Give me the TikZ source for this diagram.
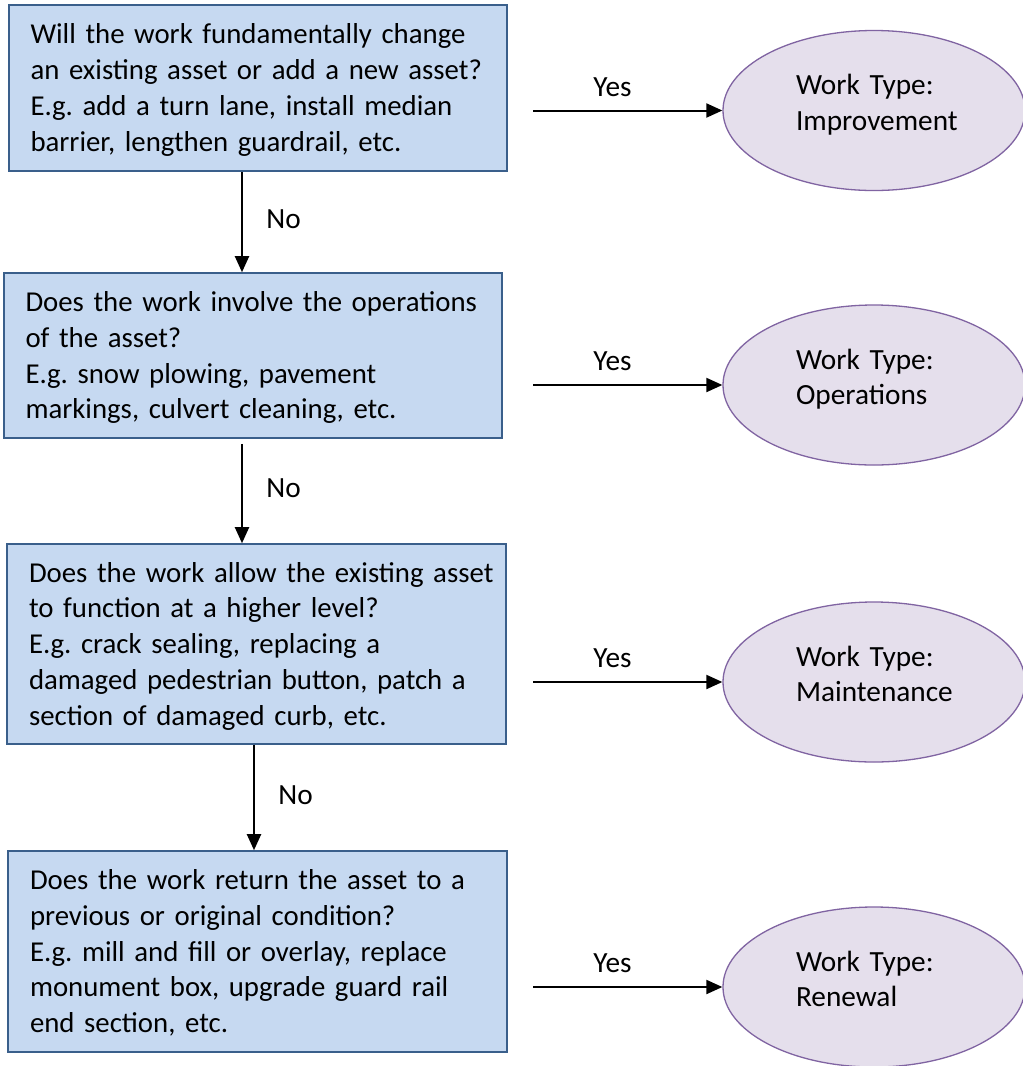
\documentclass[tikz,border=0pt]{standalone}
\usepackage{fontspec}
\setmainfont{Carlito}
\usetikzlibrary{arrows.meta,shapes.geometric,calc}
\definecolor{boxfill}{HTML}{C6D9F1}
\definecolor{boxline}{HTML}{3A5F8B}
\definecolor{ellfill}{HTML}{E5DFEC}
\definecolor{ellline}{HTML}{8064A2}
\newcommand{\mytop}{\leftskip=17.5pt\relax\hyphenpenalty=10000\relax\rule{0pt}{28pt}}
\newcommand{\mybot}{\rule[-8.8pt]{0pt}{8.8pt}\par}
\newcommand{\etop}{\rule{0pt}{24pt}}
\newcommand{\ebot}{\rule[-20pt]{0pt}{20pt}}
\tikzset{
  qbox/.style={rectangle, draw=boxline, fill=boxfill, line width=1.6pt,
    minimum width=498pt, inner xsep=4pt, inner ysep=2pt, text width=490pt,
    align=left, font=\fontsize{28.8}{35.8}\selectfont\frenchspacing},
  wtype/.style={ellipse, draw=ellline, fill=ellfill, line width=1.3pt,
    minimum width=302pt, minimum height=160pt, inner sep=0pt, text width=156pt,
    align=left, font=\fontsize{29.3}{35.8}\selectfont},
  arr/.style={line width=2pt, -{Triangle[length=16pt,width=14pt]}},
  yeslab/.style={anchor=base, yshift=14.5pt, font=\fontsize{29.3}{35.8}\selectfont},
  nolab/.style={anchor=base west, xshift=20pt, yshift=-6.5pt, font=\fontsize{29.3}{35.8}\selectfont}
}
\begin{document}
\begin{tikzpicture}[x=1pt,y=-1pt]
\useasboundingbox[fill=white] (0,0) rectangle (1023,1066);

\node[qbox, minimum height=166pt] (q1) at (258,88)
  {\mytop Will the work fundamentally change\\an existing asset or add a new asset?\\E.g. add a turn lane, install median\\barrier, lengthen guardrail, etc.\mybot};
\node[qbox, minimum height=165pt] (q2) at (253,355.5)
  {\mytop Does the work involve the operations\\of the asset?\\E.g. snow plowing, pavement\\markings, culvert cleaning, etc.\mybot};
\node[qbox, minimum height=200pt, minimum width=499pt] (q3) at (256.5,644)
  {\mytop Does the work allow the existing asset\\to function at a higher level?\\E.g. crack sealing, replacing a\\damaged pedestrian button, patch a\\section of damaged curb, etc.\mybot};
\node[qbox, minimum height=201pt, minimum width=499pt] (q4) at (257.5,951.5)
  {\mytop Does the work return the asset to a\\previous or original condition?\\E.g. mill and fill or overlay, replace\\monument box, upgrade guard rail\\end section, etc.\mybot};

\node[wtype] (w1) at (874,110.5) {\etop Work Type:\\\mbox{Improvement}\ebot};
\node[wtype] (w2) at (874,385) {\etop Work Type:\\\mbox{Operations}\ebot};
\node[wtype] (w3) at (874,682) {\etop Work Type:\\\mbox{Maintenance}\ebot};
\node[wtype] (w4) at (874,987) {\etop Work Type:\\\mbox{Renewal}\ebot};

% arrow x positions and yes-arrow start
\coordinate (ax1) at (242,0);
\coordinate (ax3) at (254,0);
\coordinate (ys) at (533,0);

\draw[arr] (q1.south -| ax1) -- node[nolab] (n1) {No} (q2.north -| ax1);
\draw[arr, shorten <=5pt] (q2.south -| ax1) -- node[nolab] (n2) {No} (q3.north -| ax1);
\draw[arr] (q3.south -| ax3) -- node[nolab] (n3) {No} (q4.north -| ax3);

\draw[arr] (w1.west -| ys) -- node[yeslab, pos=0.42] (y1) {Yes} (w1.west);
\draw[arr] (w2.west -| ys) -- node[yeslab, pos=0.42] (y2) {Yes} (w2.west);
\draw[arr] (w3.west -| ys) -- node[yeslab, pos=0.42] (y3) {Yes} (w3.west);
\draw[arr] (w4.west -| ys) -- node[yeslab, pos=0.42] (y4) {Yes} (w4.west);
\end{tikzpicture}
\end{document}
